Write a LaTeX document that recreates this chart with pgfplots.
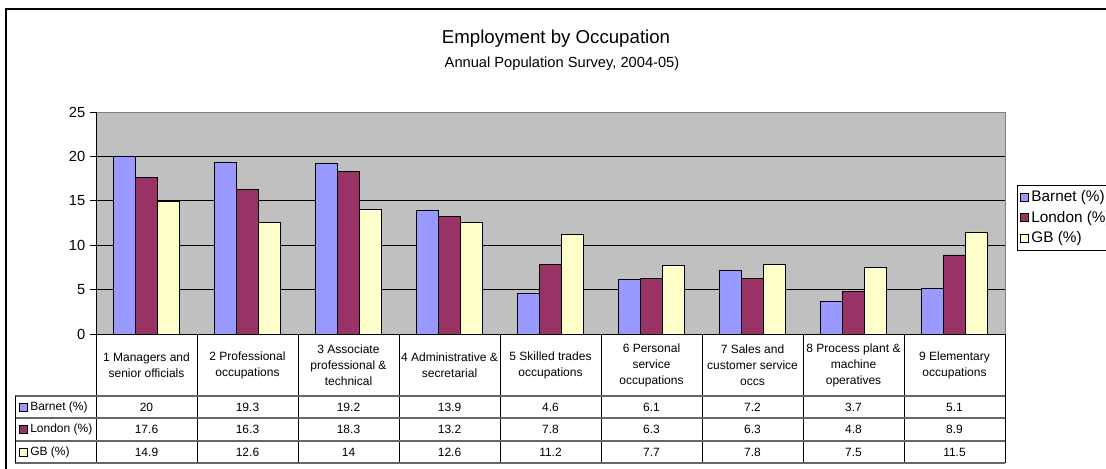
\documentclass[border=0pt]{standalone}
\usepackage{pgfplots}
\pgfplotsset{compat=1.18}
\usepackage{pgfplotstable}
\usepackage{fontspec}
\setmainfont{Liberation Sans}
\definecolor{barnet}{HTML}{9999FF}
\definecolor{london}{HTML}{993366}
\definecolor{gb}{HTML}{FFFFCC}
\definecolor{plotbg}{HTML}{C0C0C0}

\pgfplotstableread{
x barnet london gb
0 20 17.6 14.9
1 19.3 16.3 12.6
2 19.2 18.3 14
3 13.9 13.2 12.6
4 4.6 7.8 11.2
5 6.1 6.3 7.7
6 7.2 6.3 7.8
7 3.7 4.8 7.5
8 5.1 8.9 11.5
}\datatable

\begin{document}
\begin{tikzpicture}
\path[use as bounding box] (0,0) rectangle (829.5pt,351pt);
\clip (0,0) rectangle (829.5pt,351pt);
\begin{axis}[
  at={(72pt,100.5pt)}, anchor=south west,
  scale only axis, width=681.75pt, height=166.5pt,
  xmin=-0.5, xmax=8.5, ymin=0, ymax=25,
  ytick={0,5,...,25}, xtick=\empty, ytick pos=left,
  ybar=0pt, bar width=16.5pt,
  axis background/.style={fill=plotbg},
  ymajorgrids, grid style={black, line width=0.6pt},
  axis line style={draw=gray, line width=0.6pt},
  tick align=outside, major tick length=4.5pt,
  tick style={black, line width=0.6pt},
  yticklabel style={font=\fontsize{11}{13}\selectfont},
  /pgf/number format/assume math mode=true,
  legend style={at={(1.0132,0.671)}, anchor=north west, draw=black,
    font=\fontsize{11.5}{14}\selectfont, row sep=1.5pt, inner sep=2pt,
    line width=0.6pt},
  legend cell align=left,
  legend image code/.code={\draw[#1, line width=0.5pt] (0pt,-3pt) rectangle (6pt,3pt);},
  every axis plot/.append style={draw=black, line width=0.5pt},
]
\addplot[fill=barnet] table[x=x, y=barnet] {\datatable};
\addplot[fill=london] table[x=x, y=london] {\datatable};
\addplot[fill=gb] table[x=x, y=gb] {\datatable};
\legend{Barnet (\%), London (\%), GB (\%)}
\end{axis}
\begin{scope}[x=0.75pt, y=-0.75pt, shift={(0pt,351pt)}]
  % outer border
  \draw[black, line width=0.8pt] (6,9) rectangle (1118,472);
  % axis left and bottom black
  \draw[black, line width=0.6pt] (96,112) -- (96,334) -- (1005,334);
  % title
  \node at (556,39) {\fontsize{14}{16}\selectfont Employment by Occupation};
  \node at (562,64) {\fontsize{11}{13}\selectfont Annual Population Survey, 2004-05)};
  % table lines
  \foreach \k in {0,...,9} \draw[black, line width=0.6pt] ({96+101*\k},334) -- ({96+101*\k},463);
  \foreach \yy in {396,418,441,463} \draw[gray!80!black, line width=0.8pt] (15,\yy) -- (1005,\yy);
  \draw[black, line width=0.6pt] (15,396) -- (15,463);
  % header labels
  \foreach \t [count=\i from 0] in {
    {1 Managers and\\senior officials},
    {2 Professional\\occupations},
    {3 Associate\\professional \&\\technical},
    {4 Administrative \&\\secretarial},
    {5 Skilled trades\\occupations},
    {6 Personal\\service\\occupations},
    {7 Sales and\\customer service\\occs},
    {8 Process plant \&\\machine\\operatives},
    {9 Elementary\\occupations}}
    \node[align=center, font=\fontsize{9}{12}\selectfont] at ({146.5+101*\i},365) {\t};
  % row headers
  \draw[fill=barnet, line width=0.5pt] (19,403) rectangle (27,411);
  \node[anchor=west, font=\fontsize{9}{11}\selectfont, inner sep=0pt] at (30,407) {Barnet (\%)};
  \draw[fill=london, line width=0.5pt] (19,425.5) rectangle (27,433.5);
  \node[anchor=west, font=\fontsize{9}{11}\selectfont, inner sep=0pt] at (30,429.5) {London (\%)};
  \draw[fill=gb, line width=0.5pt] (19,448) rectangle (27,456);
  \node[anchor=west, font=\fontsize{9}{11}\selectfont, inner sep=0pt] at (30,452) {GB (\%)};
  % values
  \foreach \i in {0,...,8} {
    \pgfplotstablegetelem{\i}{barnet}\of\datatable
    \node[font=\fontsize{9}{11}\selectfont] at ({146.5+101*\i},407) {\pgfplotsretval};
    \pgfplotstablegetelem{\i}{london}\of\datatable
    \node[font=\fontsize{9}{11}\selectfont] at ({146.5+101*\i},429.5) {\pgfplotsretval};
    \pgfplotstablegetelem{\i}{gb}\of\datatable
    \node[font=\fontsize{9}{11}\selectfont] at ({146.5+101*\i},452) {\pgfplotsretval};
  }
\end{scope}
\end{tikzpicture}
\end{document}
